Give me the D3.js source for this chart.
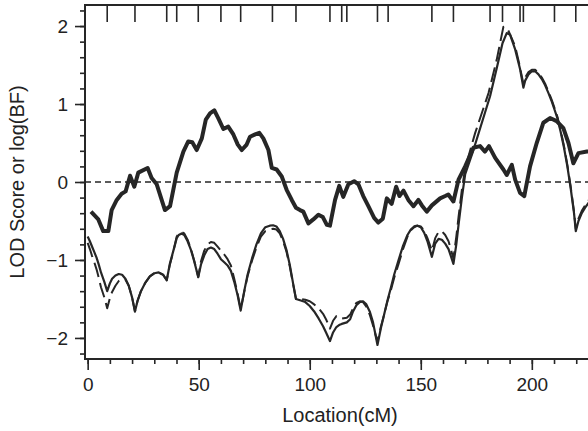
<!DOCTYPE html>
<html>
<head>
<meta charset="utf-8">
<script src="https://cdn.jsdelivr.net/npm/d3@7"></script>
<style>
  body { margin: 0; background: #fff; }
  text { font-family: "Liberation Sans", Arial, sans-serif; fill: #222; }
</style>
</head>
<body>
<div id="chart"></div>
<script>
var chartWidth = 588;
var chartHeight = 431;

// marker positions (cM), drawn as a rug along the top
var markerPos = [8.8, 21.3, 35.6, 40.1, 49.8, 60.0, 68.9, 83.2, 93.8, 109.1, 114.4, 116.7,
  130.5, 135.3, 155.0, 164.7, 181.2, 186.8, 194.7, 196.2, 210.2, 219.8];

// log(BF) curve (thick line)
var bfPos = [1.5, 4.8, 7.0, 9.3, 10.8, 13.1, 15.3, 17.1, 19.1, 21.0, 22.8, 27.0, 28.8, 31.1, 34.8,
  37.1, 40.1, 43.1, 45.3, 47.1, 49.1, 51.4, 53.2, 55.1, 57.0, 58.8, 61.1, 63.3, 65.6, 67.6, 69.4,
  71.6, 73.1, 75.4, 77.3, 79.1, 81.4, 82.9, 85.1, 87.4, 89.6, 91.9, 93.8, 95.6, 97.1, 99.4, 101.6,
  103.9, 105.9, 107.7, 109.1, 111.4, 113.3, 115.1, 117.4, 120.0, 121.9, 124.1, 126.4, 129.0, 130.9,
  132.9, 134.7, 136.9, 138.9, 140.4, 142.2, 144.4, 146.7, 148.9, 150.5, 152.7, 155.0, 158.7, 161.0,
  162.4, 164.7, 167.0, 170.0, 173.7, 176.7, 178.9, 180.7, 183.5, 187.2, 188.7, 191.0, 192.5, 194.7,
  196.6, 199.2, 202.2, 205.2, 208.2, 211.2, 214.2, 216.5, 218.7, 221.0, 224.8, 228.0];
var bfVal = [-0.38, -0.48, -0.63, -0.63, -0.36, -0.23, -0.15, -0.12, 0.08, -0.06, 0.12, 0.18, 0.05, -0.03, -0.36,
  -0.31, 0.12, 0.39, 0.52, 0.51, 0.41, 0.56, 0.80, 0.88, 0.92, 0.82, 0.68, 0.71, 0.61, 0.48, 0.41,
  0.48, 0.58, 0.61, 0.63, 0.56, 0.41, 0.18, 0.16, 0.07, -0.10, -0.23, -0.33, -0.36, -0.38, -0.53, -0.48,
  -0.42, -0.45, -0.55, -0.56, -0.23, -0.05, -0.19, -0.03, 0.01, -0.03, -0.18, -0.31, -0.46, -0.52,
  -0.47, -0.21, -0.28, -0.06, -0.18, -0.11, -0.23, -0.31, -0.23, -0.30, -0.38, -0.30, -0.21, -0.18,
  -0.16, -0.25, 0.03, 0.20, 0.44, 0.46, 0.39, 0.46, 0.31, 0.16, 0.09, 0.22, 0.03, -0.14,
  -0.18, 0.20, 0.50, 0.76, 0.82, 0.78, 0.69, 0.50, 0.24, 0.37, 0.39, 0.39];

// LOD score, solid thin line
var lodPos = [0, 1, 2, 3, 4, 5, 6, 7.5, 8.8, 10, 11, 12.5, 14, 15.5, 17, 18.5, 20, 21.3,
  22.5, 24, 26, 28, 30, 32, 34, 35.6, 37, 38.6, 40.1, 41, 42.3, 43.5, 45, 46.5, 48, 49.8,
  51, 52.5, 54, 55.5, 57, 58.5, 60, 61.5, 63, 64.5, 66, 67.5, 68.9, 70.5, 72, 74, 76, 78, 80,
  82, 83.5, 85, 86.5, 88, 89.5, 91, 92.5, 93.8, 96, 98, 100, 102, 104, 106, 107.5, 109.1,
  110.5, 112, 113.5, 114.4, 116.7, 118.2, 119.5, 121, 122.5, 124, 125.5, 127, 128.5, 130.5,
  132, 133.5, 135, 136.5, 138, 140, 142, 144, 145.5, 147, 148.5, 150, 151.5, 153, 155,
  156.5, 158, 159.5, 161, 162.5, 164.7, 166, 167, 168.5, 170, 173.7, 177.5, 181.2, 184.2,
  186.8, 188.7, 190.2, 192.5, 194.7, 196.2, 197, 198.5, 200, 201.5, 203, 204.5, 206, 207.5,
  209, 210.2, 211.5, 213, 214.5, 216, 217.5, 219, 219.8, 221, 222.5, 224, 226, 228];
var lodVal = [-0.70, -0.76, -0.83, -0.90, -0.97, -1.06, -1.16, -1.28, -1.40, -1.30, -1.24, -1.20, -1.18, -1.19, -1.24, -1.33, -1.48, -1.66,
  -1.52, -1.40, -1.29, -1.21, -1.17, -1.16, -1.19, -1.26, -1.05, -0.88, -0.72, -0.68, -0.66, -0.68, -0.76, -0.87, -1.02, -1.22,
  -1.06, -0.94, -0.86, -0.84, -0.86, -0.92, -0.99, -1.03, -1.07, -1.14, -1.28, -1.45, -1.65, -1.40, -1.19, -0.98, -0.80, -0.66, -0.58,
  -0.56, -0.555, -0.57, -0.63, -0.73, -0.87, -1.06, -1.30, -1.50, -1.52, -1.54, -1.59, -1.66, -1.75, -1.85, -1.94, -2.04,
  -1.93, -1.86, -1.83, -1.82, -1.80, -1.76, -1.66, -1.58, -1.54, -1.53, -1.57, -1.66, -1.80, -2.09,
  -1.88, -1.70, -1.52, -1.36, -1.19, -1.00, -0.82, -0.68, -0.61, -0.57, -0.56, -0.58, -0.65, -0.76, -0.96,
  -0.79, -0.73, -0.74, -0.79, -0.86, -1.05, -0.80, -0.55, -0.20, 0.10, 0.41, 0.76, 1.10, 1.46,
  1.78, 1.91, 1.89, 1.70, 1.45, 1.21, 1.30, 1.38, 1.42, 1.42, 1.38, 1.32, 1.24, 1.14,
  1.03, 0.93, 0.82, 0.64, 0.44, 0.20, -0.08, -0.40, -0.63, -0.50, -0.40, -0.33, -0.25, -0.18];

// second LOD score, dashed line
var lod2Pos = [0, 1, 2, 3, 4, 5, 6, 7.5, 8.8, 10, 11, 12.5, 14, 15.5, 17, 18.5, 20, 21.3,
  22.5, 24, 26, 28, 30, 32, 34, 35.6, 37, 38.6, 40.1, 41, 42.3, 43.5, 45, 46.5, 48, 49.8,
  51, 52.5, 54, 55.5, 57, 58.5, 60, 61.5, 63, 64.5, 66, 67.5, 68.9, 70.5, 72, 74, 76, 78, 80,
  82, 83.5, 85, 86.5, 88, 89.5, 91, 92.5, 93.8, 96, 98, 100, 102, 104, 106, 107.5, 109.1,
  110.5, 112, 113.5, 114.4, 116.7, 118.2, 119.5, 121, 122.5, 124, 125.5, 127, 128.5, 130.5,
  132, 133.5, 135, 136.5, 138, 140, 142, 144, 145.5, 147, 148.5, 150, 151.5, 153, 155,
  156.5, 158, 159.5, 161, 162.5, 164.7, 166, 167, 168.5, 170, 174.5, 180.5, 184.2, 187.2,
  189, 192.5, 194.3, 196.2, 197, 198.5, 200, 201.5, 203, 204.5, 206, 207.5,
  209, 210.2, 211.5, 213, 214.5, 216, 217.5, 219, 219.8, 221, 222.5, 224, 226, 228];
var lod2Val = [-0.78, -0.86, -0.95, -1.03, -1.12, -1.23, -1.35, -1.48, -1.62, -1.49, -1.41, -1.33, -1.27, -1.24, -1.25, -1.33, -1.48, -1.66,
  -1.52, -1.40, -1.29, -1.21, -1.17, -1.16, -1.19, -1.26, -1.06, -0.89, -0.70, -0.66, -0.64, -0.66, -0.74, -0.86, -1.01, -1.22,
  -1.02, -0.88, -0.80, -0.77, -0.78, -0.83, -0.88, -0.93, -0.99, -1.07, -1.24, -1.43, -1.63, -1.41, -1.21, -1.01, -0.84, -0.70, -0.63,
  -0.61, -0.60, -0.61, -0.66, -0.76, -0.89, -1.08, -1.31, -1.50, -1.50, -1.51, -1.53, -1.57, -1.62, -1.69, -1.77, -1.88,
  -1.78, -1.72, -1.74, -1.75, -1.74, -1.70, -1.62, -1.55, -1.53, -1.54, -1.60, -1.70, -1.84, -2.05,
  -1.86, -1.70, -1.53, -1.39, -1.23, -1.05, -0.86, -0.70, -0.62, -0.58, -0.56, -0.57, -0.62, -0.72, -0.88,
  -0.72, -0.64, -0.63, -0.68, -0.76, -0.98, -0.70, -0.45, -0.10, 0.18, 0.63, 1.14, 1.57, 1.99,
  1.97, 1.74, 1.52, 1.26, 1.34, 1.41, 1.44, 1.44, 1.40, 1.34, 1.26, 1.16,
  1.05, 0.95, 0.84, 0.66, 0.46, 0.22, -0.06, -0.38, -0.60, -0.47, -0.37, -0.30, -0.22, -0.15];

var xMajor = [0, 50, 100, 150, 200];
var yMajor = [-2, -1, 0, 1, 2];

function zip(pos, val) {
  return pos.map(function (p, i) { return { x: p, y: val[i] }; });
}

var svg = d3.select("#chart").append("svg")
  .attr("width", chartWidth)
  .attr("height", chartHeight);

var plotLeft = 85, plotTop = 5, plotBottom = 359, plotRight = 594;

var xScale = d3.scaleLinear().domain([-1.2, 228]).range([plotLeft, plotRight]);
var yScale = d3.scaleLinear().domain([-2.27, 2.27]).range([plotBottom, plotTop]);

svg.append("clipPath").attr("id", "plotclip")
  .append("rect")
  .attr("x", plotLeft).attr("y", plotTop)
  .attr("width", plotRight - plotLeft).attr("height", plotBottom - plotTop);

var ink = "#262626";

// x axis: minor ticks, then majors with labels
svg.append("g").attr("transform", "translate(0," + plotBottom + ")")
  .call(d3.axisBottom(xScale).tickValues(d3.range(0, 230, 10)).tickSize(5).tickFormat(""))
  .call(function (g) { g.select(".domain").remove(); });
svg.append("g").attr("transform", "translate(0," + plotBottom + ")")
  .call(d3.axisBottom(xScale).tickValues(xMajor).tickSize(11).tickPadding(8).tickFormat(d3.format("d")))
  .call(function (g) { g.select(".domain").remove(); });

// y axis
svg.append("g").attr("transform", "translate(" + plotLeft + ",0)")
  .call(d3.axisLeft(yScale).tickValues(d3.range(-2.2, 2.21, 0.2)).tickSize(5).tickFormat(""))
  .call(function (g) { g.select(".domain").remove(); });
svg.append("g").attr("transform", "translate(" + plotLeft + ",0)")
  .call(d3.axisLeft(yScale).tickValues(yMajor).tickSize(10).tickPadding(7)
    .tickFormat(function (d) { return d < 0 ? "\u2212" + Math.abs(d) : d; }))
  .call(function (g) { g.select(".domain").remove(); });

svg.selectAll(".tick line").attr("stroke", ink).attr("stroke-width", 1.6);
svg.selectAll(".tick text").attr("font-size", 19).style("font-family", "Liberation Sans, Arial, sans-serif").attr("fill", ink);

// frame: left, bottom and top edges
svg.append("path")
  .attr("d", "M" + plotRight + "," + plotTop + "H" + plotLeft + "V" + plotBottom + "H" + plotRight)
  .attr("fill", "none").attr("stroke", ink).attr("stroke-width", 2);

var plot = svg.append("g").attr("clip-path", "url(#plotclip)");

// zero reference line
plot.append("line")
  .attr("x1", plotLeft).attr("x2", plotRight)
  .attr("y1", yScale(0)).attr("y2", yScale(0))
  .attr("stroke", ink).attr("stroke-width", 1.5).attr("stroke-dasharray", "6,4");

// marker rug
plot.selectAll(".rug").data(markerPos).enter().append("line")
  .attr("class", "rug")
  .attr("x1", function (d) { return xScale(d); }).attr("x2", function (d) { return xScale(d); })
  .attr("y1", plotTop).attr("y2", plotTop + 17)
  .attr("stroke", ink).attr("stroke-width", 1.6);

var line = d3.line()
  .x(function (d) { return xScale(d.x); })
  .y(function (d) { return yScale(d.y); });

plot.append("path").datum(zip(lod2Pos, lod2Val))
  .attr("d", line).attr("fill", "none").attr("stroke", ink)
  .attr("stroke-width", 2).attr("stroke-dasharray", "15,6").attr("stroke-linejoin", "round");

plot.append("path").datum(zip(lodPos, lodVal))
  .attr("d", line).attr("fill", "none").attr("stroke", ink)
  .attr("stroke-width", 2.2).attr("stroke-linejoin", "round");

plot.append("path").datum(zip(bfPos, bfVal))
  .attr("d", line).attr("fill", "none").attr("stroke", ink)
  .attr("stroke-width", 4).attr("stroke-linejoin", "round");

// axis titles
svg.append("text")
  .attr("x", 340).attr("y", 422)
  .attr("text-anchor", "middle").attr("font-size", 20)
  .text("Location(cM)");

svg.append("text")
  .attr("transform", "translate(24,182) rotate(-90)")
  .attr("text-anchor", "middle").attr("font-size", 20)
  .text("LOD Score or log(BF)");
</script>
</body>
</html>
